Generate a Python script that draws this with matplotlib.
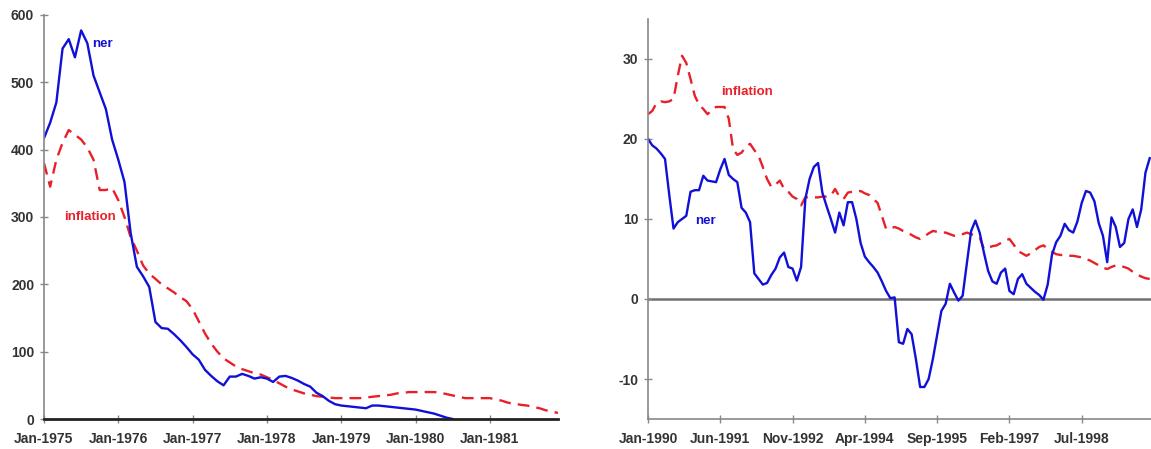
import matplotlib
matplotlib.use("Agg")
import matplotlib.pyplot as plt

plt.rcParams["font.family"] = ["Liberation Sans", "DejaVu Sans"]
plt.rcParams["axes.unicode_minus"] = False

# Episode 1: monthly from Jan-1975
ner_75 = [417, 440, 470, 550, 564, 537, 577, 558, 510, 485, 460, 415,
          385, 352, 276, 226, 212, 196, 144, 135, 134, 126, 117, 107,
          96, 88, 73, 64, 56, 50, 63, 63, 67, 64, 60, 62,
          60, 55, 63, 64, 61, 57, 52, 48, 39, 34, 27, 22,
          20, 19, 18, 17, 16, 20, 20, 19, 18, 17, 16, 15,
          14, 12, 10, 8, 5, 2, 0]
infl_75 = [380, 345, 385, 410, 429, 422, 415, 403, 385, 340, 340, 343,
           325, 300, 270, 250, 228, 216, 208, 200, 194, 188, 181, 175,
           163, 145, 127, 112, 100, 90, 84, 78, 74, 71, 68, 66,
           62, 58, 53, 48, 44, 41, 38, 36, 34, 33, 32, 31,
           31, 31, 31, 31, 32, 33, 34, 35, 36, 38, 39, 40,
           40, 40, 40, 40, 39, 37, 35, 33, 31, 31, 31, 31,
           31, 29, 27, 24, 23, 21, 20, 18, 16, 13, 11, 9]
ticks_75 = ["Jan-1975", "Jan-1976", "Jan-1977", "Jan-1978",
            "Jan-1979", "Jan-1980", "Jan-1981"]

# Episode 2: monthly from Jan-1990
ner_90 = [20, 19.2, 18.8, 18.2, 17.5, 13, 8.8, 9.6, 10, 10.4, 13.4, 13.6,
          13.6, 15.4, 14.8, 14.7, 14.6, 16.2, 17.5, 15.5, 15, 14.6, 11.4, 10.8,
          9.6, 3.2, 2.5, 1.8, 2.0, 3.0, 3.8, 5.2, 5.8, 4.0, 3.8, 2.3,
          4.0, 12.5, 15, 16.5, 17, 13.3, 11.6, 10, 8.3, 10.8, 9.2, 12.1,
          12.1, 10, 7, 5.3, 4.6, 4.0, 3.3, 2.2, 1.0, 0.1, 0.2, -5.4,
          -5.6, -3.75, -4.4, -7.5, -11, -11, -10, -7.5, -4.5, -1.5, -0.6, 1.9,
          0.8, -0.2, 0.4, 4.5, 8.5, 9.8, 8.3, 5.8, 3.5, 2.2, 1.9, 3.3,
          3.8, 1.0, 0.6, 2.5, 3.1, 1.9, 1.4, 0.9, 0.5, -0.1, 1.8, 5.5,
          7.1, 7.9, 9.4, 8.6, 8.3, 9.7, 12, 13.5, 13.3, 12.2, 9.5, 7.9,
          4.6, 10.2, 9.0, 6.5, 7.0, 10.0, 11.2, 9.0, 11.2, 15.8, 17.6]
infl_90 = [23.1, 23.5, 24.5, 24.7, 24.6, 24.7, 25, 27.9, 30.4, 29.5, 27.5, 25.4,
           24.3, 23.75, 23.1, 23.6, 24, 24, 24, 22.5, 18.75, 18, 18.3, 19,
           19.4, 18.6, 17.9, 16.5, 15, 14, 14.3, 14.8, 13.75, 13.4, 12.8, 12.5,
           11.7, 12.7, 12.7, 12.7, 12.7, 12.8, 12.8, 12.9, 13.75, 12.8, 12.5, 13.3,
           13.4, 13.4, 13.5, 13.2, 13.0, 12.5, 12.0, 10.4, 8.75, 8.8, 9, 8.8,
           8.5, 8.3, 8.0, 7.7, 7.5, 7.8, 8.2, 8.5, 8.4, 8.3, 8.3, 8.1,
           7.9, 7.9, 8.1, 8.3, 8.1, 7.9, 7.7, 6.25, 6.4, 6.6, 6.7, 7.0,
           7.3, 7.5, 6.8, 6.0, 5.7, 5.4, 5.7, 6.1, 6.5, 6.7, 6.3, 5.9,
           5.6, 5.5, 5.5, 5.4, 5.4, 5.3, 5.2, 5.0, 4.8, 4.5, 4.2, 3.9,
           3.75, 4.0, 4.2, 4.1, 4.0, 3.8, 3.4, 3.1, 2.8, 2.6, 2.5]
ticks_90 = ["Jan-1990", "Jun-1991", "Nov-1992", "Apr-1994",
            "Sep-1995", "Feb-1997", "Jul-1998"]

BLUE = "#1010d8"
RED = "#e8202a"
GREY = "#888888"
TXT = "#333333"

fig = plt.figure(figsize=(11.51, 4.49), dpi=100)
ax1 = fig.add_axes([0.0382, 0.0668, 0.4466, 0.900])
ax2 = fig.add_axes([0.563, 0.0668, 0.437, 0.891])


def style(ax):
    for side in ("top", "right"):
        ax.spines[side].set_visible(False)
    for side in ("left", "bottom"):
        ax.spines[side].set_color(GREY)
        ax.spines[side].set_linewidth(1.2)
    ax.tick_params(direction="inout", length=6, width=1, color=GREY,
                   labelsize=10, labelcolor=TXT, pad=4)
    for lab in ax.get_xticklabels() + ax.get_yticklabels():
        lab.set_fontweight("bold")


# left panel
ax1.plot(range(len(infl_75)), infl_75, color=RED, lw=1.7, ls=(0, (5, 3)))
ax1.plot(range(len(ner_75)), ner_75, color=BLUE, lw=1.7)
ax1.set_xlim(0, 83)
ax1.set_ylim(0, 600)
ax1.set_yticks(range(0, 601, 100))
ax1.set_xticks(range(0, 84, 12))
ax1.set_xticklabels(ticks_75)
style(ax1)
ax1.spines["bottom"].set_color("#222222")
ax1.spines["bottom"].set_linewidth(2)
ax1.tick_params(axis="x", pad=6)
ax1.text(9.5, 557, "ner", color=BLUE, fontsize=9.5, fontweight="bold",
         ha="center", va="center")
ax1.text(7.5, 300, "inflation", color=RED, fontsize=9.5, fontweight="bold",
         ha="center", va="center")

# right panel
ax2.axhline(0, color="#707070", lw=1.8, zorder=1)
ax2.plot(range(len(infl_90)), infl_90, color=RED, lw=1.7, ls=(0, (5, 3)))
ax2.plot(range(len(ner_90)), ner_90, color=BLUE, lw=1.7)
ax2.set_xlim(0, 118.3)
ax2.set_ylim(-15, 35)
ax2.set_yticks([-10, 0, 10, 20, 30])
ax2.set_xticks(range(0, 103, 17))
ax2.set_xticklabels(ticks_90)
style(ax2)
ax2.tick_params(axis="x", pad=6)
ax2.text(23.3, 25.9, "inflation", color=RED, fontsize=9.5, fontweight="bold",
         ha="center", va="center")
ax2.text(13.4, 9.8, "ner", color=BLUE, fontsize=9.5, fontweight="bold",
         ha="center", va="center")

fig.savefig("out.png", dpi=100)
